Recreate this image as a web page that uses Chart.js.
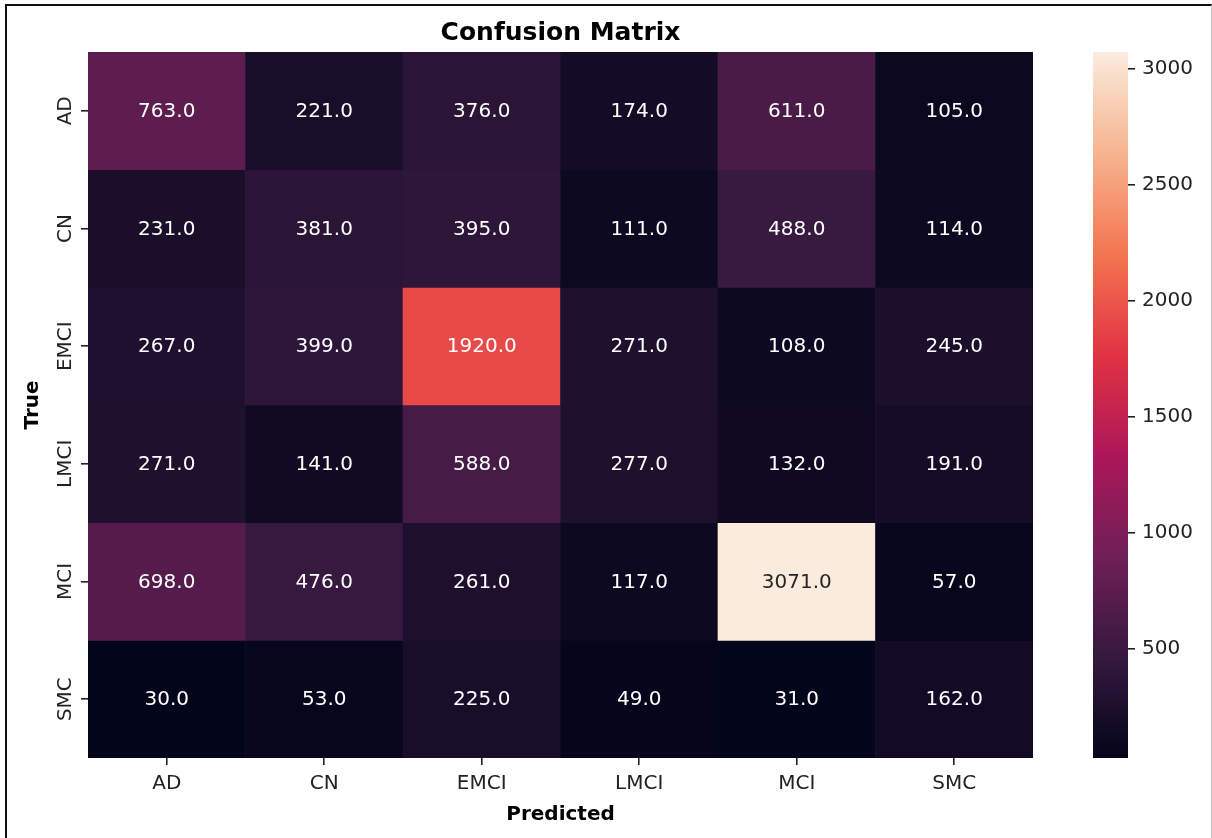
<!DOCTYPE html>
<html><head><meta charset="utf-8">
<script src="https://cdn.jsdelivr.net/npm/chart.js@4.4.0/dist/chart.umd.min.js"></script>
<style>
html,body{margin:0;padding:0;background:#fff;width:1212px;height:838px;overflow:hidden;}
#frame{position:absolute;left:5px;top:4px;width:1207px;height:900px;border-left:2px solid #111;border-top:2px solid #111;border-right:1px solid #c8c8c8;box-sizing:border-box;}
#main{position:absolute;left:0;top:0;}
#cb{position:absolute;left:1060px;top:0;}
</style></head><body>
<div id="frame"></div>
<canvas id="main" width="1212" height="838"></canvas>
<canvas id="cb" width="152" height="838"></canvas>
<script>
// ---- data ----
const categories = ['AD', 'CN', 'EMCI', 'LMCI', 'MCI', 'SMC'];
const rowAD   = [763, 221, 376, 174, 611, 105];
const rowCN   = [231, 381, 395, 111, 488, 114];
const rowEMCI = [267, 399, 1920, 271, 108, 245];
const rowLMCI = [271, 141, 588, 277, 132, 191];
const rowMCI  = [698, 476, 261, 117, 3071, 57];
const rowSMC  = [30, 53, 225, 49, 31, 162];
const colorbarTicks = [500, 1000, 1500, 2000, 2500, 3000];
const titleText = 'Confusion Matrix';
const xTitle = 'Predicted';
const yTitle = 'True';

const matrix = [rowAD, rowCN, rowEMCI, rowLMCI, rowMCI, rowSMC];
const allVals = matrix.flat();
const vmin = Math.min(...allVals), vmax = Math.max(...allVals);

// ---- rocket colormap ----
const rocketStops = [[0,'#03051a'],[1/7,'#35193e'],[2/7,'#701f57'],[3/7,'#ad1759'],[4/7,'#e13342'],[5/7,'#f37651'],[6/7,'#f6b48f'],[1,'#faebdd']];
function hex2rgb(h){return [parseInt(h.slice(1,3),16),parseInt(h.slice(3,5),16),parseInt(h.slice(5,7),16)];}
function rocketRGB(t){
  t=Math.max(0,Math.min(1,t));
  for(let i=1;i<rocketStops.length;i++){
    const [p1,c1]=rocketStops[i-1],[p2,c2]=rocketStops[i];
    if(t<=p2){const f=(t-p1)/(p2-p1);const a=hex2rgb(c1),b=hex2rgb(c2);return a.map((v,k)=>Math.round(v+(b[k]-v)*f));}
  }
  return hex2rgb(rocketStops[rocketStops.length-1][1]);
}
function rgbStr(c){return 'rgb('+c.join(',')+')';}
function lum(c){const l=c.map(v=>{v/=255;return v<=0.03928?v/12.92:Math.pow((v+0.055)/1.055,2.4);});return 0.2126*l[0]+0.7152*l[1]+0.0722*l[2];}

const FONT = 'DejaVu Sans';
const TXT = '#222';

const annotPlugin = {
  id:'annot',
  afterDatasetsDraw(chart){
    const ctx=chart.ctx;
    ctx.save();
    ctx.font='20px "'+FONT+'"';
    ctx.textAlign='center';
    ctx.textBaseline='alphabetic';
    chart.data.datasets.forEach((ds,di)=>{
      const meta=chart.getDatasetMeta(di);
      meta.data.forEach((el,j)=>{
        const v=matrix[di][j];
        const c=rocketRGB((v-vmin)/(vmax-vmin));
        ctx.fillStyle = lum(c)>0.408 ? '#262626' : '#ffffff';
        const cy=(el.y+el.base)/2;
        ctx.fillText(v.toFixed(1), el.x, cy+0.3*20);
      });
    });
    // y tick labels (rotated)
    const ys=chart.scales.y;
    ctx.fillStyle=TXT;
    categories.forEach((lab,i)=>{
      const y=ys.getPixelForValue(i+0.5);
      ctx.save();
      ctx.translate(71,y);
      ctx.rotate(-Math.PI/2);
      ctx.fillText(lab,0,0);
      ctx.restore();
    });
    // title
    const ca=chart.chartArea;
    ctx.fillStyle='#000';
    ctx.font='bold 25px "'+FONT+'"';
    ctx.fillText(titleText,(ca.left+ca.right)/2,40);
    ctx.restore();
  }
};

const datasets = matrix.map((row,r)=>({
  label: categories[r],
  data: row.map(()=>[r, r+1]),
  backgroundColor: row.map(v=>rgbStr(rocketRGB((v-vmin)/(vmax-vmin)))),
  grouped:false,
  barPercentage:1,
  categoryPercentage:1,
  borderWidth:0
}));

const tickGrid = {drawOnChartArea:false, tickLength:7, color:'#222', lineWidth:1.6};

new Chart(document.getElementById('main'),{
  type:'bar',
  data:{labels:categories, datasets},
  options:{
    responsive:false, animation:false,
    layout:{padding:{top:52,right:179,bottom:0,left:0}},
    plugins:{legend:{display:false},tooltip:{enabled:false},title:{display:false}},
    scales:{
      x:{
        type:'category', offset:true,
        grid:Object.assign({offset:false},tickGrid),
        border:{display:false},
        ticks:{font:{family:FONT,size:20},color:TXT,padding:7,maxRotation:0,minRotation:0},
        title:{display:true,text:xTitle,color:'#000',font:{family:FONT,size:20,weight:'bold'},padding:{top:0,bottom:11}},
        afterFit(s){s.height=80;}
      },
      y:{
        type:'linear', min:0, max:6, reverse:true,
        afterBuildTicks(s){s.ticks=categories.map((_,i)=>({value:i+0.5}));},
        grid:tickGrid,
        border:{display:false},
        ticks:{display:false},
        title:{display:true,text:yTitle,color:'#000',font:{family:FONT,size:20,weight:'bold'},padding:{top:21,bottom:0}},
        afterFit(s){s.width=88;}
      }
    }
  },
  plugins:[annotPlugin]
});

// ---- colorbar ----
new Chart(document.getElementById('cb'),{
  type:'bar',
  data:{labels:[''],datasets:[{
    data:[[vmin,vmax]],
    backgroundColor(ctx){
      const ch=ctx.chart, ca=ch.chartArea;
      if(!ca) return '#000';
      const g=ch.ctx.createLinearGradient(0,ca.bottom,0,ca.top);
      rocketStops.forEach(([p,c])=>g.addColorStop(p,c));
      return g;
    },
    barPercentage:1, categoryPercentage:1, borderWidth:0
  }]},
  options:{
    responsive:false, animation:false,
    layout:{padding:{top:52,right:0,bottom:80,left:33}},
    plugins:{legend:{display:false},tooltip:{enabled:false}},
    scales:{
      x:{display:false},
      y:{
        type:'linear', position:'right', min:vmin, max:vmax,
        afterBuildTicks(s){s.ticks=colorbarTicks.map(v=>({value:v}));},
        grid:tickGrid,
        border:{display:false},
        ticks:{font:{family:FONT,size:20},color:TXT,padding:7,callback:v=>String(v)},
        afterFit(s){s.width=84;}
      }
    }
  }
});
</script>
</body></html>
